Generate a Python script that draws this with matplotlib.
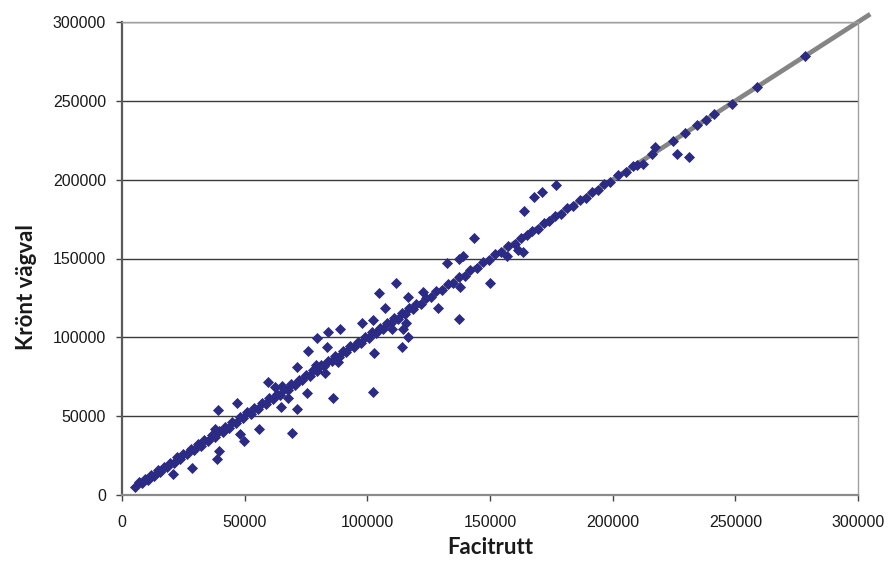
import matplotlib
matplotlib.use("Agg")
import matplotlib.pyplot as plt
from matplotlib.ticker import MultipleLocator, FormatStrFormatter

# Points lying close to the diagonal
on_x = [5500, 7000, 8200, 9500, 10500, 11800, 13000, 14500, 15500, 17000, 18200, 19500,
        21000, 22500, 23500, 25000, 26500, 28000, 29500, 31000, 32000, 33500, 35000, 36500,
        38000, 39500, 41000, 42000, 43500, 45000, 46500, 48000, 49500, 51000, 52500, 54000,
        55500, 57000, 58500, 60000, 61500, 63000, 64500, 66000, 67500, 69000, 70500, 72000,
        73500, 75000, 76500, 78000, 79500, 81000, 82500, 84000, 85500, 87000, 88500, 90000,
        91500, 93000, 94500, 96000, 97500, 99000, 100500, 102000, 103500, 105000, 106500, 108000,
        109500, 111000, 112500, 114000, 115500, 117000, 118500, 120000, 122000, 124000, 126000, 128000,
        130500, 133000, 135000, 137500, 140000, 142000, 144500, 147000, 149500, 152000, 154500, 157500,
        160000, 162500, 165000, 167000, 169500, 172000, 174000, 176500, 179000, 181500, 184000, 186500,
        189000, 191500, 194000, 196500, 199000, 202200, 205300, 208300, 209800, 215900, 224450, 229600,
        234500, 238000, 241300, 248500, 259000, 278400]
on_y = [5300, 8200, 7600, 10400, 9800, 12900, 12100, 15600, 14800, 17900, 17600, 20300,
        20100, 23800, 22700, 26100, 25700, 29200, 28600, 32300, 31100, 34600, 34200, 37800,
        37100, 40700, 40200, 43400, 42600, 46100, 45700, 49300, 48600, 52400, 51600, 55300,
        54700, 58200, 57400, 61300, 60800, 64200, 63600, 67400, 66700, 70300, 69600, 73200,
        72800, 76400, 75600, 79300, 78700, 82200, 81600, 85300, 84800, 88100, 87600, 91300,
        90700, 94200, 93800, 97300, 96600, 100200, 99800, 103300, 102700, 106200, 105600, 109300,
        108800, 112100, 111700, 115200, 114600, 118300, 117800, 121100, 121300, 125200, 125400, 129100,
        129800, 134100, 134300, 138400, 139200, 143000, 144000, 147800, 149000, 152600, 154000, 158200,
        159500, 163100, 164600, 167700, 169000, 172600, 173600, 177000, 178500, 182000, 183600, 187000,
        188600, 192000, 193600, 197000, 198600, 202800, 205000, 208800, 209500, 216200, 224800, 229300,
        234800, 237700, 241600, 248300, 258600, 278300]

# Points deviating from the diagonal
out_x = [39000, 46750, 37900, 48200, 49700, 55700, 39700, 38850, 28400, 20900, 59600, 71200,
         69200, 64800, 71300, 67550, 75300, 78950, 62350, 65200, 79350, 83850, 88850, 75950,
         83450, 97700, 102450, 102850, 102450, 86100, 114000, 116450, 115650, 109950, 88150, 82750,
         111550, 104650, 116450, 122800, 107300, 114400, 128900, 137350, 132350, 137750, 150000, 143500,
         137250, 139000, 157050, 161550, 163550, 163750, 168050, 171200, 177000, 217250, 226100, 231100,
         212350]
out_y = [53900, 58350, 41900, 38700, 34400, 41700, 27900, 23000, 16900, 13300, 71900, 81400,
         39100, 56000, 54350, 61300, 64500, 82450, 68700, 69100, 99800, 103600, 105500, 91150,
         94050, 108900, 111000, 90250, 65500, 61300, 94050, 100400, 108900, 105100, 84550, 77200,
         134300, 128300, 125600, 128900, 118400, 105300, 118400, 111450, 146950, 132100, 134300, 162800,
         149700, 151800, 151800, 155400, 154300, 179950, 188800, 192000, 196600, 220900, 216300, 214400,
         209700]

# Reference line y = x
line_x = [5000, 305000]
line_y = [5000, 305000]

x_label = "Facitrutt"
y_label = "Krönt vägval"

fig = plt.figure(figsize=(8.88, 5.63), dpi=100)
ax = fig.add_axes([122/888, 1-495/563, (858-122)/888, (495-22)/563])

ax.set_xlim(0, 300000)
ax.set_ylim(0, 300000)
ax.xaxis.set_major_locator(MultipleLocator(50000))
ax.yaxis.set_major_locator(MultipleLocator(50000))
ax.xaxis.set_major_formatter(FormatStrFormatter('%d'))
ax.yaxis.set_major_formatter(FormatStrFormatter('%d'))

ax.yaxis.grid(True, color='#3a3a3a', linewidth=1.0, zorder=0)
ax.set_axisbelow(True)

ax.plot(line_x, line_y, color='#858585', linewidth=3.4, solid_capstyle='butt',
        clip_on=False, zorder=2)
ax.scatter(on_x, on_y, marker='D', s=32, color='#2B2A85', linewidths=0, zorder=3)
ax.scatter(out_x, out_y, marker='D', s=32, color='#2B2A85', linewidths=0, zorder=3)

ax.spines['left'].set_color('#5a5a5a')
ax.spines['left'].set_linewidth(1.6)
ax.spines['bottom'].set_color('#8a8a8a')
ax.spines['bottom'].set_linewidth(1.6)
ax.spines['right'].set_color('#a0a0a0')
ax.spines['right'].set_linewidth(1.0)
ax.spines['top'].set_color('#a0a0a0')
ax.spines['top'].set_linewidth(1.0)

ax.tick_params(axis='both', direction='out', length=4, width=1, color='#444444',
               labelsize=11.5, labelcolor='#1a1a1a')
ax.tick_params(axis='x', pad=10.5)
ax.tick_params(axis='y', pad=7.5)
for lab in ax.get_xticklabels() + ax.get_yticklabels():
    lab.set_fontfamily('Liberation Sans')

ax.set_xlabel(x_label, fontsize=16, fontweight='bold', fontfamily='Lato',
              color='#1a1a1a')
ax.set_ylabel(y_label, fontsize=16, fontweight='bold', fontfamily='Lato',
              color='#1a1a1a')
ax.xaxis.set_label_coords(0.5, -0.088)
ax.yaxis.set_label_coords(-0.115, 0.44)

fig.savefig("out.png", dpi=100)
